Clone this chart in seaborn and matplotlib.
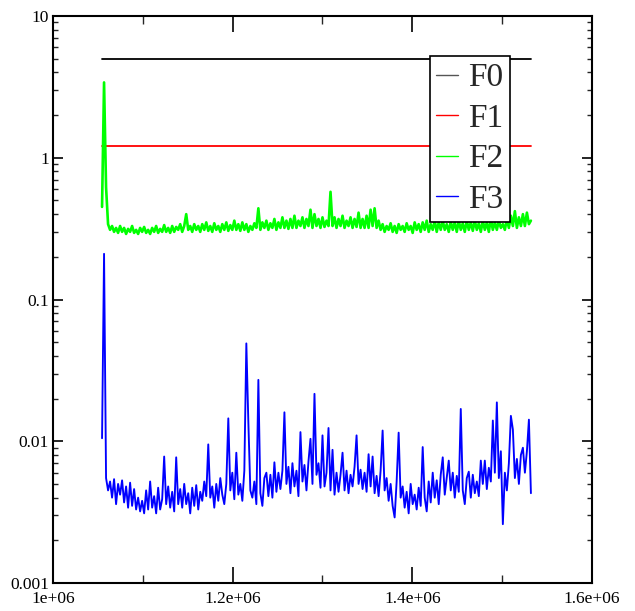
import numpy as np
import pandas as pd
import matplotlib
matplotlib.use("Agg")
import matplotlib.pyplot as plt
import seaborn as sns
from matplotlib.ticker import FixedLocator, FixedFormatter, NullFormatter, LogLocator

# ---------------- data ----------------
series_names = ["F0", "F1", "F2", "F3"]
series_colors = ["#000000", "#ff0000", "#00ff00", "#0000ff"]

x_start = 1054600
x_end = 1532000

f0_values = [5.0, 5.0]
f1_values = [1.21, 1.21]

f2_values = [
    0.45, 3.4, 0.62, 0.34, 0.31, 0.33, 0.30, 0.32, 0.295, 0.33,
    0.30, 0.32, 0.29, 0.315, 0.30, 0.33, 0.295, 0.31, 0.29, 0.32,
    0.30, 0.325, 0.295, 0.31, 0.29, 0.32, 0.30, 0.33, 0.295, 0.315,
    0.30, 0.335, 0.30, 0.32, 0.295, 0.33, 0.30, 0.325, 0.31, 0.34,
    0.30, 0.33, 0.40, 0.31, 0.33, 0.30, 0.34, 0.31, 0.33, 0.30,
    0.34, 0.31, 0.35, 0.305, 0.33, 0.30, 0.345, 0.31, 0.33, 0.30,
    0.34, 0.31, 0.35, 0.305, 0.335, 0.31, 0.36, 0.31, 0.34, 0.305,
    0.35, 0.31, 0.34, 0.30, 0.33, 0.31, 0.345, 0.32, 0.44, 0.31,
    0.35, 0.32, 0.36, 0.31, 0.345, 0.32, 0.37, 0.31, 0.35, 0.32,
    0.38, 0.32, 0.36, 0.315, 0.37, 0.32, 0.39, 0.32, 0.36, 0.33,
    0.38, 0.32, 0.37, 0.33, 0.43, 0.32, 0.40, 0.33, 0.37, 0.32,
    0.38, 0.325, 0.36, 0.33, 0.575, 0.33, 0.38, 0.32, 0.37, 0.33,
    0.39, 0.32, 0.36, 0.33, 0.38, 0.32, 0.37, 0.325, 0.41, 0.32,
    0.37, 0.32, 0.39, 0.32, 0.43, 0.33, 0.44, 0.32, 0.36, 0.31,
    0.34, 0.30, 0.33, 0.31, 0.345, 0.30, 0.33, 0.295, 0.34, 0.31,
    0.33, 0.30, 0.345, 0.31, 0.33, 0.295, 0.35, 0.31, 0.34, 0.30,
    0.35, 0.31, 0.36, 0.30, 0.34, 0.31, 0.36, 0.30, 0.35, 0.31,
    0.36, 0.31, 0.34, 0.30, 0.355, 0.31, 0.35, 0.30, 0.36, 0.31,
    0.345, 0.30, 0.36, 0.31, 0.35, 0.305, 0.36, 0.31, 0.345, 0.30,
    0.36, 0.31, 0.35, 0.30, 0.37, 0.31, 0.35, 0.31, 0.36, 0.32,
    0.34, 0.31, 0.37, 0.32, 0.39, 0.33, 0.42, 0.32, 0.38, 0.33,
    0.40, 0.33, 0.41, 0.34, 0.36,
]

f3_values = [
    0.0105, 0.21, 0.0055, 0.0045, 0.0052, 0.0040, 0.0054, 0.0036, 0.0050, 0.0042,
    0.0053, 0.0037, 0.0048, 0.0034, 0.0051, 0.0035, 0.0046, 0.0033, 0.0040, 0.0032,
    0.0038, 0.0031, 0.0045, 0.0033, 0.0052, 0.0034, 0.0041, 0.0031, 0.0047, 0.0033,
    0.0039, 0.0078, 0.0036, 0.0048, 0.0034, 0.0044, 0.0032, 0.0077, 0.0036, 0.0046,
    0.0034, 0.0050, 0.0036, 0.0043, 0.0031, 0.0047, 0.0035, 0.0049, 0.0033, 0.0044,
    0.0038, 0.0052, 0.0041, 0.0095, 0.0040, 0.0048, 0.0034, 0.0050, 0.0038, 0.0055,
    0.0042, 0.0036, 0.0050, 0.0145, 0.0045, 0.0060, 0.0039, 0.0083, 0.0042, 0.0050,
    0.0038, 0.0062, 0.0490, 0.0137, 0.0045, 0.0040, 0.0052, 0.0036, 0.0271, 0.0043,
    0.0035, 0.0055, 0.0060, 0.0041, 0.0058, 0.0040, 0.0071, 0.0044, 0.0060, 0.0046,
    0.0062, 0.0160, 0.0050, 0.0066, 0.0043, 0.0070, 0.0048, 0.0062, 0.0041, 0.0116,
    0.0052, 0.0068, 0.0045, 0.0072, 0.0104, 0.0050, 0.0216, 0.0058, 0.0070, 0.0047,
    0.0110, 0.0048, 0.0060, 0.0124, 0.0045, 0.0087, 0.0042, 0.0060, 0.0044, 0.0058,
    0.0083, 0.0045, 0.0062, 0.0043, 0.0058, 0.0048, 0.0066, 0.0110, 0.0050, 0.0063,
    0.0046, 0.0060, 0.0044, 0.0081, 0.0048, 0.0078, 0.0043, 0.0057, 0.0041, 0.0062,
    0.0119, 0.0045, 0.0055, 0.0038, 0.0050, 0.0035, 0.0029, 0.0052, 0.0115, 0.0040,
    0.0048, 0.0034, 0.0044, 0.0031, 0.0050, 0.0036, 0.0042, 0.0033, 0.0047, 0.0035,
    0.0091, 0.0040, 0.0032, 0.0052, 0.0037, 0.0060, 0.0040, 0.0053, 0.0036, 0.0058,
    0.0077, 0.0042, 0.0055, 0.0073, 0.0045, 0.0060, 0.0040, 0.0057, 0.0044, 0.0169,
    0.0045, 0.0036, 0.0055, 0.0061, 0.0040, 0.0058, 0.0043, 0.0052, 0.0041, 0.0073,
    0.0050, 0.0073, 0.0046, 0.0065, 0.0052, 0.0140, 0.0060, 0.0188, 0.0055, 0.0085,
    0.0026, 0.0060, 0.0045, 0.0070, 0.0151, 0.0121, 0.0055, 0.0075, 0.0050, 0.0080,
    0.0090, 0.0060, 0.0085, 0.0142, 0.0043,
]

x_ticks = [1.0e6, 1.2e6, 1.4e6, 1.6e6]
x_tick_labels = ["1e+06", "1.2e+06", "1.4e+06", "1.6e+06"]
y_ticks = [0.001, 0.01, 0.1, 1, 10]
y_tick_labels = ["0.001", "0.01", "0.1", "1", "10"]

# ---------------- build table ----------------
frames = []
for name, vals in zip(series_names, [f0_values, f1_values, f2_values, f3_values]):
    xs = np.linspace(x_start, x_end, len(vals))
    frames.append(pd.DataFrame({"step": xs, "value": vals, "series": name}))
df = pd.concat(frames, ignore_index=True)

# ---------------- style ----------------
sns.set_theme(style="white")
plt.rcParams["font.family"] = ["Liberation Serif", "DejaVu Serif"]
plt.rcParams["xtick.direction"] = "in"
plt.rcParams["ytick.direction"] = "in"

fig = plt.figure(figsize=(6.35, 6.11), dpi=100)
ax = fig.add_axes([53 / 635, 28 / 611, 539 / 635, 567 / 611])

widths = {"F0": 1.3, "F1": 1.3, "F2": 1.9, "F3": 1.35}
palette = dict(zip(series_names, series_colors))
for name in series_names:
    sub = df[df["series"] == name]
    sns.lineplot(data=sub, x="step", y="value", color=palette[name], ax=ax,
                 estimator=None, sort=False, linewidth=widths[name], label=name)

ax.set_yscale("log")
ax.set_xlim(1.0e6, 1.6e6)
ax.set_ylim(0.001, 10)
ax.set_xlabel("")
ax.set_ylabel("")

ax.xaxis.set_major_locator(FixedLocator(x_ticks))
ax.xaxis.set_major_formatter(FixedFormatter(x_tick_labels))
ax.xaxis.set_minor_locator(FixedLocator([1.1e6, 1.3e6, 1.5e6]))
ax.xaxis.set_minor_formatter(NullFormatter())
ax.yaxis.set_major_locator(FixedLocator(y_ticks))
ax.yaxis.set_major_formatter(FixedFormatter(y_tick_labels))
ax.yaxis.set_minor_locator(LogLocator(base=10, subs=np.arange(2, 10)))
ax.yaxis.set_minor_formatter(NullFormatter())

ax.tick_params(axis="x", which="major", length=11.5, width=1.2, top=True,
               bottom=True, labelsize=12.5, pad=6, colors="black")
ax.tick_params(axis="x", which="minor", length=5.8, width=1.0, top=True, bottom=True)
ax.tick_params(axis="y", which="major", length=7.2, width=1.2, left=True,
               right=True, labelsize=12.5, pad=3, colors="black")
ax.tick_params(axis="y", which="minor", length=3.6, width=1.0, left=True, right=True)

for sp in ax.spines.values():
    sp.set_visible(True)
    sp.set_color("black")
    sp.set_linewidth(1.5)

handles, labels = ax.get_legend_handles_labels()
leg = ax.legend(handles, labels, loc="upper left", bbox_to_anchor=(0.699, 0.929),
                borderaxespad=0, fontsize=24, handlelength=0.65, handletextpad=0.3,
                labelspacing=0.3, borderpad=0.2, frameon=True, fancybox=False,
                framealpha=1, edgecolor="black")
leg.get_frame().set_linewidth(1.2)
for line, col in zip(leg.get_lines(), ["#555555", "#ff0000", "#00ff00", "#0000ff"]):
    line.set_linewidth(1.0)
    line.set_color(col)

fig.savefig("out.png", dpi=100)
